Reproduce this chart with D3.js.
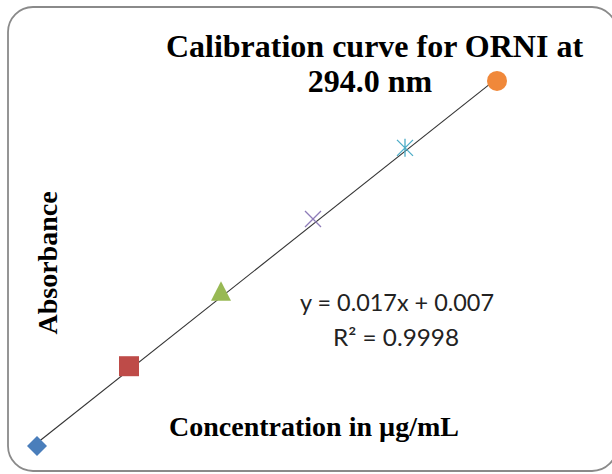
<!DOCTYPE html>
<html>
<head>
<meta charset="utf-8">
<script src="https://cdn.jsdelivr.net/npm/d3@7"></script>
<style>
  html, body { margin: 0; padding: 0; background: #ffffff; }
  svg { display: block; }
</style>
</head>
<body>
<svg id="chart" width="612" height="474"></svg>
<script>
// Calibration standards: concentration (µg/mL) and measured absorbance
const concentrations = [0, 10, 20, 30, 40, 50];
const absorbances = [0.000, 0.186, 0.361, 0.529, 0.695, 0.851];

// Least-squares line reported on the chart
const trendSlope = 0.017;
const trendIntercept = 0.007;
const rSquared = 0.9998;

// Hidden axis extents
const xDomain = [0, 60];
const yDomain = [0, 0.9];

const titleLines = ["Calibration curve for ORNI at", "294.0 nm"];
const xTitle = "Concentration in µg/mL";
const yTitle = "Absorbance";

const svg = d3.select("#chart");

// Rounded chart-area frame
svg.append("rect")
  .attr("x", 8).attr("y", 7)
  .attr("width", 609).attr("height", 464)
  .attr("rx", 25).attr("ry", 25)
  .attr("fill", "#ffffff")
  .attr("stroke", "#8a8a8a")
  .attr("stroke-width", 1.8);

const x = d3.scaleLinear().domain(xDomain).range([37, 589]);
const y = d3.scaleLinear().domain(yDomain).range([446, 59.9]);

// Trendline across the measured range
const xExtent = d3.extent(concentrations);
const trendPts = xExtent.map(c => [c, trendSlope * c + trendIntercept]);
svg.append("path")
  .attr("d", d3.line().x(d => x(d[0])).y(d => y(d[1]))(trendPts))
  .attr("fill", "none")
  .attr("stroke", "#333333")
  .attr("stroke-width", 1.1);

// One marker style per standard (each plotted as its own series)
const markerStyles = [
  { shape: "diamond",  color: "#4a7ebb" },
  { shape: "square",   color: "#be4b48" },
  { shape: "triangle", color: "#98b954" },
  { shape: "x",        color: "#8e7cb8" },
  { shape: "star",     color: "#4bacc6" },
  { shape: "circle",   color: "#f0883a" }
];

function markerPath(shape) {
  const p = d3.path();
  switch (shape) {
    case "diamond": {
      const r = 10;
      p.moveTo(0, -r); p.lineTo(r, 0); p.lineTo(0, r); p.lineTo(-r, 0); p.closePath();
      break;
    }
    case "square": {
      p.rect(-10, -10, 20, 20);
      break;
    }
    case "triangle": {
      p.moveTo(0, -10); p.lineTo(10, 9.5); p.lineTo(-10, 9.5); p.closePath();
      break;
    }
    case "x": {
      const r = 8;
      p.moveTo(-r, -r); p.lineTo(r, r); p.moveTo(r, -r); p.lineTo(-r, r);
      break;
    }
    case "star": {
      const r = 8;
      p.moveTo(-r, -r); p.lineTo(r, r); p.moveTo(r, -r); p.lineTo(-r, r);
      p.moveTo(0, -r - 1); p.lineTo(0, r + 1);
      break;
    }
    case "circle": {
      p.arc(0, 0, 10, 0, 2 * Math.PI);
      break;
    }
  }
  return p.toString();
}

const points = concentrations.map((c, i) => ({ c, a: absorbances[i], style: markerStyles[i] }));
const isLineMarker = s => s === "x" || s === "star";

svg.append("g").selectAll("path")
  .data(points)
  .join("path")
  .attr("transform", d => `translate(${x(d.c)},${y(d.a)})`)
  .attr("d", d => markerPath(d.style.shape))
  .attr("fill", d => isLineMarker(d.style.shape) ? "none" : d.style.color)
  .attr("stroke", d => isLineMarker(d.style.shape) ? d.style.color : "none")
  .attr("stroke-width", 1.3);

// Chart title
const title = svg.append("text")
  .attr("font-family", "'Liberation Serif', 'Times New Roman', serif")
  .attr("font-weight", "bold")
  .attr("font-size", 32)
  .attr("fill", "#000")
  .attr("text-anchor", "middle");
title.append("tspan").attr("x", 374.5).attr("y", 57).text(titleLines[0]);
title.append("tspan").attr("x", 370).attr("y", 92).text(titleLines[1]);

// Axis titles
svg.append("text")
  .attr("x", 314).attr("y", 436)
  .attr("text-anchor", "middle")
  .attr("font-family", "'Liberation Serif', 'Times New Roman', serif")
  .attr("font-weight", "bold")
  .attr("font-size", 28)
  .attr("fill", "#000")
  .text(xTitle);

svg.append("text")
  .attr("transform", "translate(57,263) rotate(-90)")
  .attr("text-anchor", "middle")
  .attr("font-family", "'Liberation Serif', 'Times New Roman', serif")
  .attr("font-weight", "bold")
  .attr("font-size", 28)
  .attr("fill", "#000")
  .text(yTitle);

// Trendline equation and R²
const fmt3 = d3.format(".3f");
const eq = svg.append("text")
  .attr("text-anchor", "middle")
  .attr("font-family", "Lato, 'Open Sans', sans-serif")
  .attr("font-size", 24)
  .attr("fill", "#222");
eq.append("tspan").attr("x", 397).attr("y", 311)
  .attr("textLength", 194).attr("lengthAdjust", "spacingAndGlyphs")
  .text(`y = ${fmt3(trendSlope)}x + ${fmt3(trendIntercept)}`);
eq.append("tspan").attr("x", 396).attr("y", 346)
  .attr("textLength", 126).attr("lengthAdjust", "spacingAndGlyphs")
  .text(`R² = ${d3.format(".4f")(rSquared)}`);
</script>
</body>
</html>
